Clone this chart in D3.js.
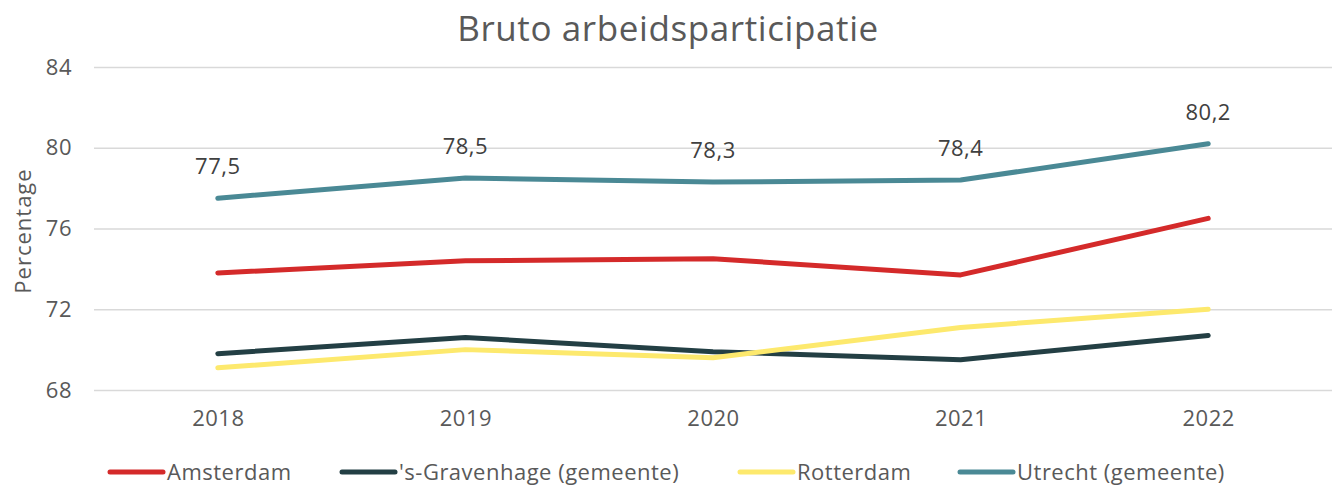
<!DOCTYPE html>
<html>
<head>
<meta charset="utf-8">
<script src="https://cdn.jsdelivr.net/npm/d3@7"></script>
<style>
  body { margin: 0; background: #fff; }
  svg { display: block; font-family: "Open Sans", Lato, sans-serif; }
  .grid line { stroke: #d9d9d9; stroke-width: 1.5px; }
  .grid .domain { display: none; }
  .axis text { fill: #595959; font-size: 22px; letter-spacing: 0.5px; font-family: "Open Sans", sans-serif; }
  .axis .domain, .axis line { display: none; }
  .line { fill: none; stroke-width: 5px; stroke-linecap: round; stroke-linejoin: round; }
</style>
</head>
<body>
<svg width="1336" height="486"></svg>
<script>
var years = ["2018", "2019", "2020", "2021", "2022"];
var yTicks = [68, 72, 76, 80, 84];
var seriesNames = ["Amsterdam", "'s-Gravenhage (gemeente)", "Rotterdam", "Utrecht (gemeente)"];
var amsterdam = [73.8, 74.4, 74.5, 73.7, 76.5];
var gravenhage = [69.8, 70.6, 69.9, 69.5, 70.7];
var rotterdam = [69.1, 70.0, 69.6, 71.1, 72.0];
var utrecht = [77.5, 78.5, 78.3, 78.4, 80.2];
var colors = ["#d42a2a", "#233f44", "#fde96d", "#4a8995"];

var svg = d3.select("svg"),
    margin = {top: 67, right: 4, bottom: 96, left: 94},
    width = svg.attr("width") - margin.left - margin.right,
    height = svg.attr("height") - margin.top - margin.bottom,
    g = svg.append("g").attr("transform", "translate(" + margin.left + "," + margin.top + ")");

var x = d3.scalePoint().domain(years).range([0, width]).padding(0.5),
    y = d3.scaleLinear().domain([68, 84]).range([height, 0]);

var series = [amsterdam, gravenhage, rotterdam, utrecht].map(function(vals, i) {
  return {name: seriesNames[i], color: colors[i], values: vals.map(function(v, j) { return {year: years[j], value: v}; })};
});

// title
svg.append("text")
    .attr("x", 668)
    .attr("y", 41)
    .attr("text-anchor", "middle")
    .attr("fill", "#595959")
    .attr("font-size", "35px")
    .attr("letter-spacing", "0.6px")
    .text("Bruto arbeidsparticipatie");

// gridlines
g.append("g")
    .attr("class", "grid")
    .call(d3.axisLeft(y).tickValues(yTicks).tickSize(-width).tickFormat(""));

g.append("g")
    .attr("class", "axis")
    .call(d3.axisLeft(y).tickValues(yTicks).tickSize(0).tickPadding(22));

g.append("g")
    .attr("class", "axis")
    .attr("transform", "translate(0," + height + ")")
    .call(d3.axisBottom(x).tickSize(0).tickPadding(20));

svg.append("text")
    .attr("transform", "translate(31,231) rotate(-90)")
    .attr("text-anchor", "middle")
    .attr("fill", "#595959")
    .attr("font-size", "22px")
    .attr("letter-spacing", "1px")
    .text("Percentage");

var line = d3.line()
    .x(function(d) { return x(d.year); })
    .y(function(d) { return y(d.value); });

g.selectAll(".line")
    .data(series)
  .enter().append("path")
    .attr("class", "line")
    .attr("d", function(d) { return line(d.values); })
    .style("stroke", function(d) { return d.color; });

// data labels on Utrecht
g.selectAll(".label")
    .data(series[3].values)
  .enter().append("text")
    .attr("class", "label")
    .attr("x", function(d) { return x(d.year); })
    .attr("y", function(d) { return y(d.value) - 24; })
    .attr("text-anchor", "middle")
    .attr("fill", "#404040")
    .attr("font-size", "22px")
    .attr("letter-spacing", "0.5px")
    .text(function(d) { return d3.format(".1f")(d.value).replace(".", ","); });

// legend
var legendX = [108, 340, 738, 958];
var legend = svg.selectAll(".legend")
    .data(series)
  .enter().append("g")
    .attr("class", "legend")
    .attr("transform", function(d, i) { return "translate(" + legendX[i] + ",472)"; });

legend.append("line")
    .attr("x1", 2).attr("x2", 55)
    .attr("stroke", function(d) { return d.color; })
    .attr("stroke-width", 5)
    .attr("stroke-linecap", "round");

legend.append("text")
    .attr("x", 59)
    .attr("dy", "0.35em")
    .attr("fill", "#595959")
    .attr("font-size", "22px")
    .attr("letter-spacing", "0.5px")
    .text(function(d) { return d.name; });
</script>
</body>
</html>
